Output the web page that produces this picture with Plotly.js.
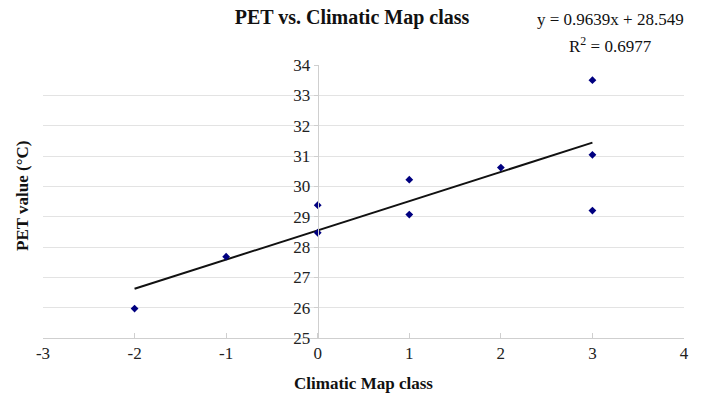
<!DOCTYPE html>
<html><head><meta charset="utf-8">
<script src="https://cdn.plot.ly/plotly-3.0.1.min.js"></script>
<style>html,body{margin:0;padding:0;background:#fff}#chart{width:704px;height:401px}</style>
</head><body><div id="chart"></div>
<script>
const classX = [-2, -1, 0, 0, 1, 1, 2, 3, 3, 3];
const petY = [25.97, 27.68, 29.38, 28.47, 30.22, 29.07, 30.62, 33.5, 31.04, 29.2];
const slope = 0.9639;
const intercept = 28.549;
const rSquared = 0.6977;
const xTicks = [-3, -2, -1, 0, 1, 2, 3, 4];
const xTickText = ['-3', '-2', '-1', '0', '1', '2', '3', '4'];
const yTicks = [25, 26, 27, 28, 29, 30, 31, 32, 33, 34];

const xMin = Math.min(...classX), xMax = Math.max(...classX);
const fitX = [xMin, xMax];
const fitY = fitX.map(v => slope * v + intercept);

const font = "Liberation Serif, Times New Roman, serif";
const data = [
  {x: fitX, y: fitY, mode: 'lines', line: {color: '#111', width: 2}, hoverinfo: 'skip'},
  {x: classX, y: petY, mode: 'markers', marker: {symbol: 'diamond', size: 6, color: '#000080'}}
];
const layout = {
  width: 704, height: 401,
  margin: {l: 43, r: 20, t: 65, b: 63},
  paper_bgcolor: '#fff', plot_bgcolor: '#fff',
  showlegend: false,
  font: {family: font, size: 17, color: '#222'},
  title: {text: '<b>PET vs. Climatic Map class</b>', x: 0.5, xanchor: 'center', y: 0.958, yanchor: 'middle', font: {family: font, size: 20, color: '#111'}},
  xaxis: {
    range: [-3, 4], tickvals: xTicks, ticktext: xTickText, showgrid: false, zeroline: false,
    showline: true, linecolor: '#cfcfcf', linewidth: 1,
    ticks: 'inside', ticklen: 5, tickcolor: '#cfcfcf',
    tickfont: {family: font, size: 17, color: '#222'},
    title: {text: '<b>Climatic Map class</b>', font: {family: font, size: 17, color: '#111'}, standoff: 14}
  },
  yaxis: {
    range: [25, 34], tickvals: yTicks, anchor: 'free', position: 3/7,
    showgrid: true, gridcolor: '#e3e3e3', zeroline: false,
    showline: true, linecolor: '#cfcfcf', linewidth: 1,
    ticks: 'outside', ticklen: 4, tickcolor: '#cfcfcf',
    tickfont: {family: font, size: 17, color: '#222'}
  },
  annotations: [
    {text: '<b>PET value (°C)</b>', textangle: -90, xref: 'paper', yref: 'paper', x: -0.033, y: 0.52, xanchor: 'center', yanchor: 'middle', showarrow: false, font: {family: font, size: 17, color: '#111'}},
    {text: 'y = ' + slope + 'x + ' + intercept, xref: 'paper', yref: 'paper', x: 0.885, y: 1.165, xanchor: 'center', yanchor: 'middle', showarrow: false, font: {family: font, size: 17, color: '#111'}},
    {text: 'R<sup>2</sup> = ' + rSquared, xref: 'paper', yref: 'paper', x: 0.885, y: 1.075, xanchor: 'center', yanchor: 'middle', showarrow: false, font: {family: font, size: 17, color: '#111'}}
  ]
};
Plotly.newPlot('chart', data, layout, {displayModeBar: false, staticPlot: true});
</script></body></html>
